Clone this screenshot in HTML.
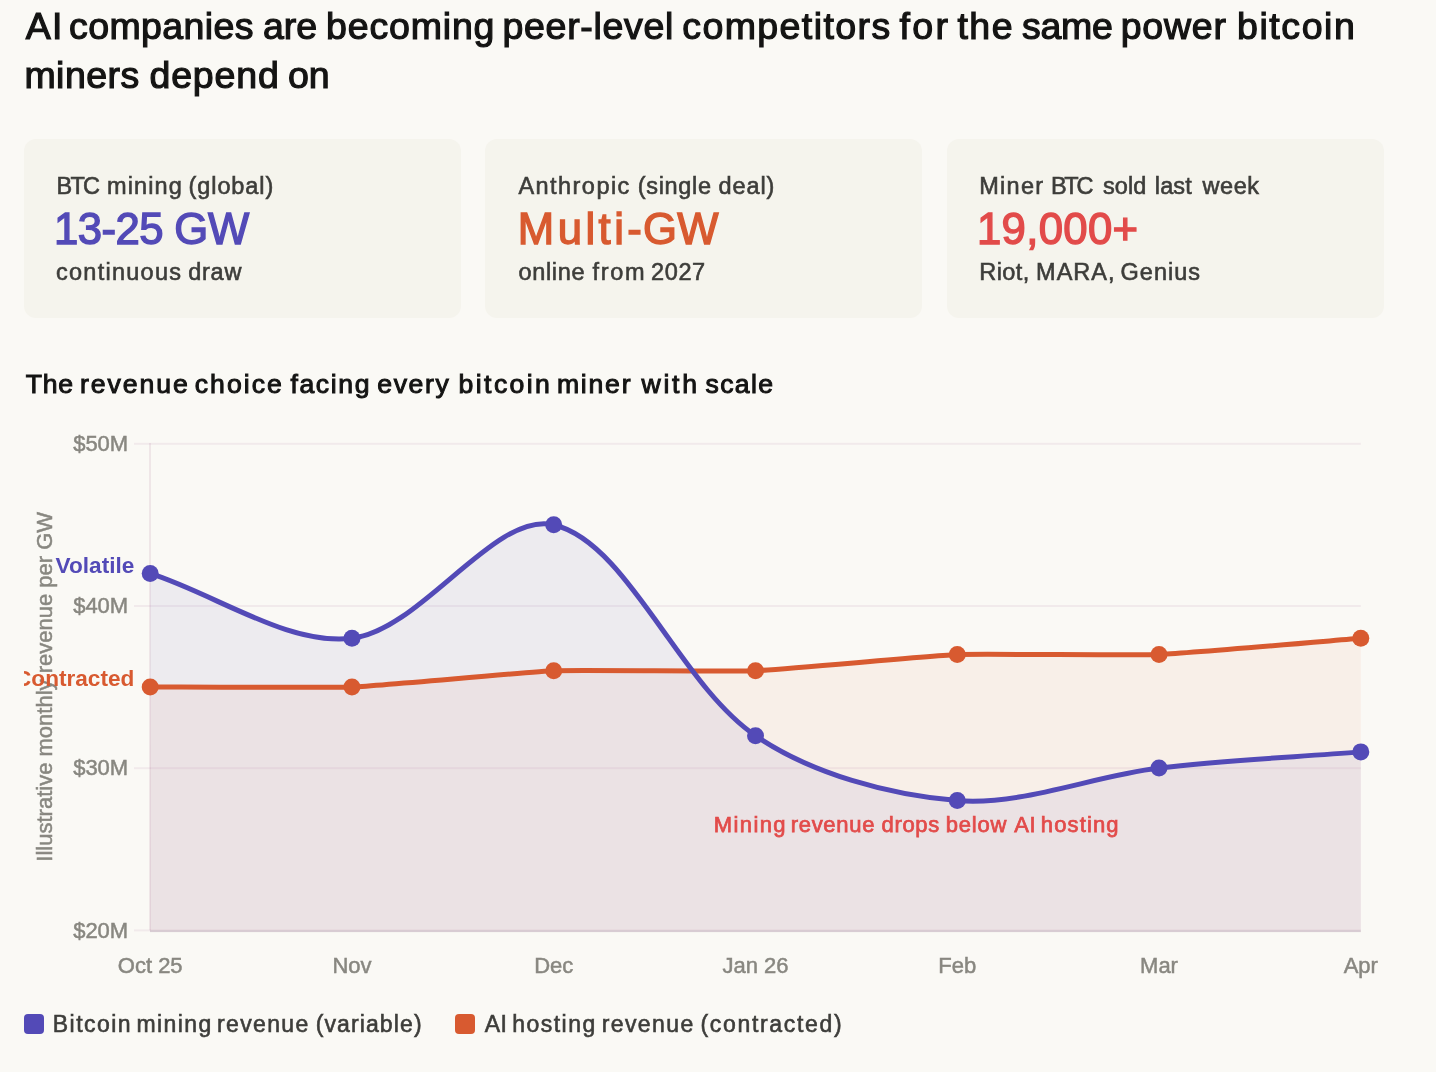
<!DOCTYPE html>
<html lang="en"><head><meta charset="utf-8"><title>chart</title>
<style>
html,body{margin:0;padding:0;}
body{width:1436px;height:1072px;background:#faf9f5;position:relative;overflow:hidden;font-family:"Liberation Sans",sans-serif;}
.t{will-change:transform;position:absolute;left:0;white-space:nowrap;line-height:0;height:0;font-family:"Liberation Sans",sans-serif;}
.t span{position:absolute;top:0;line-height:0;white-space:nowrap;}
.card{position:absolute;top:139px;height:179px;width:437px;background:#f5f4ed;border-radius:12px;}
.sq{position:absolute;top:1014px;width:20px;height:20px;border-radius:4px;}
svg text{font-family:"Liberation Sans",sans-serif;}
.tk{font-size:22px;fill:#888780;stroke:#888780;stroke-width:0.5px;}
.yt{font-size:22px;fill:#888780;stroke:#888780;stroke-width:0.5px;}
.lb{font-size:22.6px;font-weight:700;}
</style></head><body>
<div class="card" style="left:24px"></div>
<div class="card" style="left:485px"></div>
<div class="card" style="left:947px"></div>
<svg width="1436" height="1072" viewBox="0 0 1436 1072" style="position:absolute;left:0;top:0;will-change:transform">
<defs><clipPath id="cv"><rect x="24" y="420" width="1360" height="580"/></clipPath></defs>
<rect x="134" y="442.80" width="1226.8" height="2" fill="rgba(130,60,120,0.075)"/>
<rect x="134" y="605.00" width="1226.8" height="2" fill="rgba(130,60,120,0.075)"/>
<rect x="134" y="767.20" width="1226.8" height="2" fill="rgba(130,60,120,0.075)"/>
<rect x="134" y="929.40" width="1226.8" height="2" fill="rgba(130,60,120,0.075)"/>
<rect x="149" y="443" width="2" height="487.3" fill="rgba(130,40,90,0.085)"/>
<rect x="150" y="930.3" width="1210.8" height="1.8" fill="rgba(90,50,90,0.2)"/>
<path d="M150.20,687.00 C170.38,687.00 331.82,687.81 351.97,687.00 C372.18,686.19 533.52,671.59 553.73,670.78 C573.88,669.97 735.36,671.59 755.50,670.78 C775.71,669.97 937.06,655.37 957.27,654.56 C977.41,653.75 1138.89,655.37 1159.03,654.56 C1179.24,653.75 1340.62,639.96 1360.80,638.34 H1360.80 V930.3 H150.00 Z" fill="#D85A30" fill-opacity="0.062"/>
<path d="M150.20,573.46 C216.78,594.87 288.32,646.01 351.97,638.34 C421.49,629.96 494.82,510.59 553.73,524.80 C627.99,542.71 678.36,682.95 755.50,735.66 C811.52,773.94 889.47,795.09 957.27,800.54 C1022.64,805.80 1092.13,776.17 1159.03,768.10 C1225.30,760.11 1294.22,757.23 1360.80,751.88 H1360.80 V930.3 H150.00 Z" fill="#534AB7" fill-opacity="0.08"/>
<path d="M150.20,687.00 C170.38,687.00 331.82,687.81 351.97,687.00 C372.18,686.19 533.52,671.59 553.73,670.78 C573.88,669.97 735.36,671.59 755.50,670.78 C775.71,669.97 937.06,655.37 957.27,654.56 C977.41,653.75 1138.89,655.37 1159.03,654.56 C1179.24,653.75 1340.62,639.96 1360.80,638.34" fill="none" stroke="#D85A30" stroke-width="5" stroke-linecap="butt" stroke-linejoin="miter"/>
<circle cx="150.20" cy="687.00" r="8.5" fill="#D85A30"/>
<circle cx="351.97" cy="687.00" r="8.5" fill="#D85A30"/>
<circle cx="553.73" cy="670.78" r="8.5" fill="#D85A30"/>
<circle cx="755.50" cy="670.78" r="8.5" fill="#D85A30"/>
<circle cx="957.27" cy="654.56" r="8.5" fill="#D85A30"/>
<circle cx="1159.03" cy="654.56" r="8.5" fill="#D85A30"/>
<circle cx="1360.80" cy="638.34" r="8.5" fill="#D85A30"/>
<path d="M150.20,573.46 C216.78,594.87 288.32,646.01 351.97,638.34 C421.49,629.96 494.82,510.59 553.73,524.80 C627.99,542.71 678.36,682.95 755.50,735.66 C811.52,773.94 889.47,795.09 957.27,800.54 C1022.64,805.80 1092.13,776.17 1159.03,768.10 C1225.30,760.11 1294.22,757.23 1360.80,751.88" fill="none" stroke="#534AB7" stroke-width="5" stroke-linecap="butt" stroke-linejoin="miter"/>
<circle cx="150.20" cy="573.46" r="8.5" fill="#534AB7"/>
<circle cx="351.97" cy="638.34" r="8.5" fill="#534AB7"/>
<circle cx="553.73" cy="524.80" r="8.5" fill="#534AB7"/>
<circle cx="755.50" cy="735.66" r="8.5" fill="#534AB7"/>
<circle cx="957.27" cy="800.54" r="8.5" fill="#534AB7"/>
<circle cx="1159.03" cy="768.10" r="8.5" fill="#534AB7"/>
<circle cx="1360.80" cy="751.88" r="8.5" fill="#534AB7"/>
<text transform="translate(128.2,450.9)" text-anchor="end" class="tk">$50M</text>
<text transform="translate(128.2,613.1)" text-anchor="end" class="tk">$40M</text>
<text transform="translate(128.2,775.3)" text-anchor="end" class="tk">$30M</text>
<text transform="translate(128.2,937.5)" text-anchor="end" class="tk">$20M</text>
<text transform="translate(150.2,972.9)" text-anchor="middle" class="tk">Oct 25</text>
<text transform="translate(352.0,972.9)" text-anchor="middle" class="tk">Nov</text>
<text transform="translate(553.7,972.9)" text-anchor="middle" class="tk">Dec</text>
<text transform="translate(755.5,972.9)" text-anchor="middle" class="tk">Jan 26</text>
<text transform="translate(957.3,972.9)" text-anchor="middle" class="tk">Feb</text>
<text transform="translate(1159.0,972.9)" text-anchor="middle" class="tk">Mar</text>
<text transform="translate(1360.8,972.9)" text-anchor="middle" class="tk">Apr</text>
<text transform="translate(52.0,686.8) rotate(-90)" text-anchor="middle" class="yt">Illustrative monthly revenue per GW</text>
<text x="134.3" y="573.4" text-anchor="end" class="lb" fill="#534AB7">Volatile</text>
<g clip-path="url(#cv)"><text x="134.3" y="686.4" text-anchor="end" class="lb" fill="#D85A30">Contracted</text></g>
</svg>
<div class="sq" style="left:24px;background:#534AB7"></div>
<div class="sq" style="left:455px;background:#D85A30"></div>
<div class="t" style="top:26.40px;font-size:37.5px;font-weight:400;color:#141413;-webkit-text-stroke:1.2px #141413;"><span style="left:25.70px;letter-spacing:1.188px">AI</span><span style="left:69.10px;letter-spacing:0.388px">companies</span><span style="left:263.00px;letter-spacing:-0.022px">are</span><span style="left:326.00px;letter-spacing:0.837px">becoming</span><span style="left:502.50px;letter-spacing:0.696px">peer-level</span><span style="left:682.30px;letter-spacing:1.403px">competitors</span><span style="left:899.60px;letter-spacing:2.313px">for</span><span style="left:957.40px;letter-spacing:1.563px">the</span><span style="left:1022.00px;letter-spacing:-0.315px">same</span><span style="left:1120.70px;letter-spacing:0.788px">power</span><span style="left:1237.00px;letter-spacing:1.576px">bitcoin</span></div>
<div class="t" style="top:75.00px;font-size:37.5px;font-weight:400;color:#141413;-webkit-text-stroke:1.2px #141413;"><span style="left:24.40px;letter-spacing:0.466px">miners</span><span style="left:149.50px;letter-spacing:0.824px">depend</span><span style="left:287.90px;letter-spacing:0.044px">on</span></div>
<div class="t" style="top:186.25px;font-size:23.5px;font-weight:400;color:#3d3d3a;-webkit-text-stroke:0.6px #3d3d3a;"><span style="left:56.50px;letter-spacing:-1.765px">BTC</span><span style="left:107.10px;letter-spacing:1.089px">mining</span><span style="left:188.60px;letter-spacing:0.893px">(global)</span></div>
<div class="t" style="top:229.05px;font-size:43.7px;font-weight:400;color:#534AB7;-webkit-text-stroke:1.4px #534AB7;"><span style="left:53.90px;letter-spacing:-0.510px">13-25</span><span style="left:174.20px;letter-spacing:-0.182px">GW</span></div>
<div class="t" style="top:271.85px;font-size:23.5px;font-weight:400;color:#3d3d3a;-webkit-text-stroke:0.6px #3d3d3a;"><span style="left:56.00px;letter-spacing:1.254px">continuous</span><span style="left:188.30px;letter-spacing:0.712px">draw</span></div>
<div class="t" style="top:186.25px;font-size:23.5px;font-weight:400;color:#3d3d3a;-webkit-text-stroke:0.6px #3d3d3a;"><span style="left:518.40px;letter-spacing:1.459px">Anthropic</span><span style="left:637.80px;letter-spacing:0.657px">(single</span><span style="left:718.50px;letter-spacing:0.893px">deal)</span></div>
<div class="t" style="top:229.05px;font-size:43.7px;font-weight:400;color:#D85A30;-webkit-text-stroke:1.4px #D85A30;"><span style="left:517.80px;letter-spacing:3.452px">Multi-</span><span style="left:642.90px;letter-spacing:0.318px">GW</span></div>
<div class="t" style="top:271.85px;font-size:23.5px;font-weight:400;color:#3d3d3a;-webkit-text-stroke:0.6px #3d3d3a;"><span style="left:518.40px;letter-spacing:0.690px">online</span><span style="left:592.60px;letter-spacing:1.625px">from</span><span style="left:651.10px;letter-spacing:0.597px">2027</span></div>
<div class="t" style="top:186.25px;font-size:23.5px;font-weight:400;color:#3d3d3a;-webkit-text-stroke:0.6px #3d3d3a;"><span style="left:979.30px;letter-spacing:1.241px">Miner</span><span style="left:1050.90px;letter-spacing:-2.215px">BTC</span><span style="left:1103.00px;letter-spacing:0.086px">sold</span><span style="left:1154.80px;letter-spacing:0.120px">last</span><span style="left:1202.60px;letter-spacing:0.497px">week</span></div>
<div class="t" style="top:229.05px;font-size:43.7px;font-weight:400;color:#E24B4A;-webkit-text-stroke:1.4px #E24B4A;"><span style="left:977.00px;letter-spacing:0.313px">19,000+</span></div>
<div class="t" style="top:271.85px;font-size:23.5px;font-weight:400;color:#3d3d3a;-webkit-text-stroke:0.6px #3d3d3a;"><span style="left:979.30px;letter-spacing:0.402px">Riot,</span><span style="left:1036.10px;letter-spacing:0.976px">MARA,</span><span style="left:1120.60px;letter-spacing:0.998px">Genius</span></div>
<div class="t" style="top:384.28px;font-size:26.6px;font-weight:400;color:#141413;-webkit-text-stroke:1.0px #141413;"><span style="left:25.80px;letter-spacing:0.683px">The</span><span style="left:80.00px;letter-spacing:1.931px">revenue</span><span style="left:194.70px;letter-spacing:2.064px">choice</span><span style="left:290.40px;letter-spacing:1.645px">facing</span><span style="left:377.20px;letter-spacing:1.667px">every</span><span style="left:458.60px;letter-spacing:2.403px">bitcoin</span><span style="left:556.90px;letter-spacing:1.790px">miner</span><span style="left:641.60px;letter-spacing:2.699px">with</span><span style="left:705.50px;letter-spacing:1.352px">scale</span></div>
<div class="t" style="top:1024.33px;font-size:23px;font-weight:400;color:#3d3d3a;-webkit-text-stroke:0.6px #3d3d3a;"><span style="left:52.80px;letter-spacing:1.460px">Bitcoin</span><span style="left:136.50px;letter-spacing:1.388px">mining</span><span style="left:217.00px;letter-spacing:1.362px">revenue</span><span style="left:315.70px;letter-spacing:1.111px">(variable)</span></div>
<div class="t" style="top:1024.33px;font-size:23px;font-weight:400;color:#3d3d3a;-webkit-text-stroke:0.6px #3d3d3a;"><span style="left:484.70px;letter-spacing:0.559px">AI</span><span style="left:512.20px;letter-spacing:1.471px">hosting</span><span style="left:601.70px;letter-spacing:1.412px">revenue</span><span style="left:700.40px;letter-spacing:1.695px">(contracted)</span></div>
<div class="t" style="top:824.67px;font-size:22px;font-weight:400;color:#E24B4A;-webkit-text-stroke:0.75px #E24B4A;"><span style="left:713.77px;letter-spacing:1.396px">Mining</span><span style="left:790.67px;letter-spacing:0.714px">revenue</span><span style="left:881.58px;letter-spacing:0.654px">drops</span><span style="left:945.77px;letter-spacing:0.789px">below</span><span style="left:1014.17px;letter-spacing:0.576px">AI</span><span style="left:1040.78px;letter-spacing:1.141px">hosting</span></div>
</body></html>
